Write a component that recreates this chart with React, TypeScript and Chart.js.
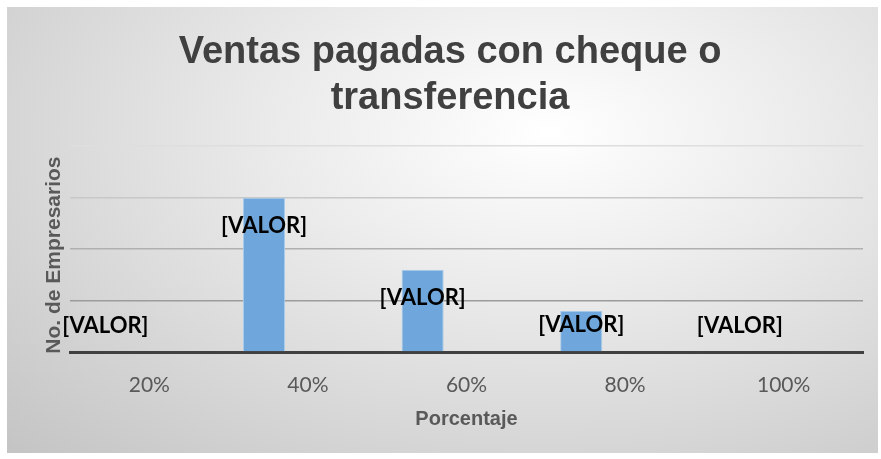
import React, { useEffect, useRef } from "react";
import { Chart, registerables } from "chart.js";

Chart.register(...registerables);

const titleLines = ["Ventas pagadas con cheque o", "transferencia"];
const categories = ["20%", "40%", "60%", "80%", "100%"];
const empresarios = [0, 15, 8, 4, 0];
const emptySeriesA = [null, null, null, null, null];
const emptySeriesB = [null, null, null, null, null];
const dataLabel = "[VALOR]";
const xTitle = "Porcentaje";
const yTitle = "No. de Empresarios";
const yMax = 20;
const yStep = 5;

const gridColors: Record<number, string> = {
  5: "#9c9c9c",
  10: "#b0b0b0",
  15: "#c8c8c8",
  20: "#dedede",
};

const labelPlugin = {
  id: "valorLabels",
  afterDatasetsDraw(chart: any) {
    const meta = chart.getDatasetMeta(0);
    const ctx = chart.ctx;
    ctx.save();
    ctx.font = "bold 22px Lato";
    ctx.fillStyle = "#000000";
    ctx.textAlign = "center";
    ctx.textBaseline = "middle";
    meta.data.forEach((bar: any) => {
      const y = Math.min(bar.y + 28, bar.base - 26);
      ctx.fillText(dataLabel, bar.x, y);
    });
    ctx.restore();
  },
};

const yTitlePlugin = {
  id: "yTitle",
  afterDraw(chart: any) {
    const ctx = chart.ctx;
    const area = chart.chartArea;
    ctx.save();
    ctx.font = "bold 21px 'Liberation Sans'";
    ctx.fillStyle = "#595959";
    ctx.textAlign = "center";
    ctx.textBaseline = "middle";
    ctx.translate(47, (area.top + area.bottom) / 2 + 6);
    ctx.rotate(-Math.PI / 2);
    ctx.fillText(yTitle, 0, 0);
    ctx.restore();
  },
};

export default function App() {
  const ref = useRef<HTMLCanvasElement | null>(null);
  useEffect(() => {
    document.body.style.margin = "0";
    const chart = new Chart(ref.current as HTMLCanvasElement, {
      type: "bar",
      data: {
        labels: categories,
        datasets: [
          {
            data: empresarios,
            backgroundColor: "#6fa6db",
            borderColor: "#a9cbea",
            borderWidth: 1,
            categoryPercentage: 0.83,
            barPercentage: 0.96,
          },
          { data: emptySeriesA as any, categoryPercentage: 0.83, barPercentage: 0.96 },
          { data: emptySeriesB as any, categoryPercentage: 0.83, barPercentage: 0.96 },
        ],
      },
      options: {
        animation: false,
        responsive: true,
        maintainAspectRatio: false,
        layout: { padding: { left: 30, right: 15, top: 0, bottom: 0 } },
        plugins: {
          legend: { display: false },
          tooltip: { enabled: false },
          title: {
            display: true,
            text: titleLines,
            color: "#404040",
            font: { family: "Liberation Sans", size: 38, weight: "bold", lineHeight: 1.2 },
            padding: { top: 23, bottom: 25 },
          },
        },
        scales: {
          x: {
            offset: true,
            grid: { display: false, drawTicks: false },
            border: { display: true, color: "#404040", width: 3 },
            ticks: {
              color: "#595959",
              font: { family: "Lato", size: 21 },
              padding: 21,
            },
            title: {
              display: true,
              text: xTitle,
              color: "#595959",
              font: { family: "Liberation Sans", size: 20, weight: "bold" },
              padding: { top: 0, bottom: 22 },
            },
            afterFit: (s: any) => {
              s.height = 101;
            },
          },
          y: {
            min: 0,
            max: yMax,
            ticks: { display: false, stepSize: yStep },
            border: { display: false },
            grid: {
              drawTicks: false,
              lineWidth: 1.5,
              color: (c: any) => (c.tick && gridColors[c.tick.value]) || "rgba(0,0,0,0)",
            },
            title: { display: false },
            afterFit: (s: any) => {
              s.width = 33;
            },
          },
        },
      },
      plugins: [labelPlugin, yTitlePlugin],
    });
    return () => chart.destroy();
  }, []);

  return (
    <div
      style={{
        position: "absolute",
        left: 7,
        top: 7,
        width: 871,
        height: 446,
        background:
          "radial-gradient(ellipse farthest-corner at 62% 28%, #ffffff 0%, #ebebeb 35%, #c4c4c4 100%)",
      }}
    >
      <canvas ref={ref} />
    </div>
  );
}
